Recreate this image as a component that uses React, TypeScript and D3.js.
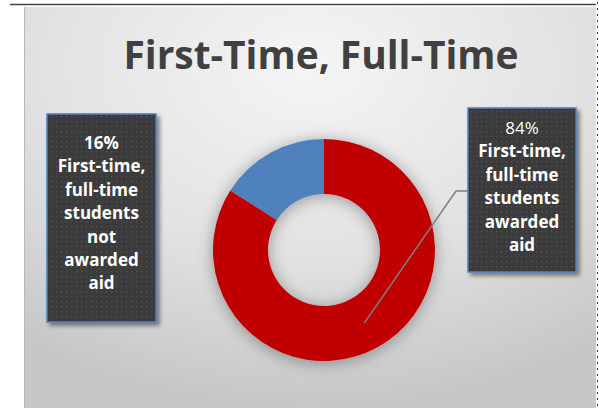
import { useEffect, useRef } from "react";
import * as d3 from "d3";

const title = "First-Time, Full-Time";
const categories = ["awarded aid", "not awarded aid"];
const shares = [84, 16];
const sliceColors = ["#C00000", "#4F81BD"];
const awardedLines = ["84%", "First-time,", "full-time", "students", "awarded", "aid"];
const notAwardedLines = ["16%", "First-time,", "full-time", "students", "not", "awarded", "aid"];

const W = 599;
const H = 408;

const App = () => {
    const svgRef = useRef<SVGSVGElement>(null);

    useEffect(() => {
        const svg = d3.select(svgRef.current);
        svg.selectAll("*").remove();
        const defs = svg.append("defs");

        // background gradient
        const bg = defs.append("radialGradient").attr("id", "bg")
            .attr("cx", "50%").attr("cy", "15%").attr("r", "85%");
        bg.append("stop").attr("offset", "0%").attr("stop-color", "#f5f5f5");
        bg.append("stop").attr("offset", "55%").attr("stop-color", "#e2e2e2");
        bg.append("stop").attr("offset", "100%").attr("stop-color", "#c6c6c6");

        const glow = defs.append("filter").attr("id", "glow")
            .attr("x", "-30%").attr("y", "-30%").attr("width", "160%").attr("height", "160%");
        glow.append("feDropShadow").attr("dx", 0).attr("dy", 2).attr("stdDeviation", 8)
            .attr("flood-color", "#000").attr("flood-opacity", 0.35);

        const boxShadow = defs.append("filter").attr("id", "boxShadow")
            .attr("x", "-20%").attr("y", "-20%").attr("width", "150%").attr("height", "150%");
        boxShadow.append("feDropShadow").attr("dx", 3).attr("dy", 3).attr("stdDeviation", 2)
            .attr("flood-color", "#000").attr("flood-opacity", 0.45);

        const dots = defs.append("pattern").attr("id", "dots")
            .attr("width", 5).attr("height", 5).attr("patternUnits", "userSpaceOnUse");
        dots.append("rect").attr("width", 5).attr("height", 5).attr("fill", "#3a3a3a");
        dots.append("rect").attr("x", 1).attr("y", 1).attr("width", 1.3).attr("height", 1.3).attr("fill", "#575757");

        // top rule and right page edge
        svg.append("line").attr("x1", 10).attr("x2", 596).attr("y1", 4.5).attr("y2", 4.5)
            .attr("stroke", "#444").attr("stroke-width", 1.5);
        svg.append("line").attr("x1", 597.5).attr("x2", 597.5).attr("y1", 2).attr("y2", H)
            .attr("stroke", "#333").attr("stroke-width", 1).attr("stroke-dasharray", "2,4");

        // chart area
        svg.append("rect").attr("x", 24).attr("y", 7).attr("width", 572).attr("height", H - 7)
            .attr("fill", "url(#bg)");
        svg.append("line").attr("x1", 24.5).attr("x2", 24.5).attr("y1", 7).attr("y2", H)
            .attr("stroke", "#b8b8b8").attr("stroke-width", 1);

        svg.append("text").attr("x", 321).attr("y", 69).attr("text-anchor", "middle")
            .attr("font-family", "'Open Sans', sans-serif").attr("font-weight", "bold")
            .attr("font-size", 39).attr("fill", "#404040")
            .attr("textLength", 395).attr("lengthAdjust", "spacingAndGlyphs")
            .text(title);

        // donut
        const cx = 324, cy = 250, outer = 111, inner = 56;
        const pie = d3.pie<number>().sort(null).value(d => d);
        const arcs = pie(shares);
        const arc = d3.arc<d3.PieArcDatum<number>>().innerRadius(inner).outerRadius(outer);
        const g = svg.append("g").attr("transform", `translate(${cx},${cy})`);
        g.append("g").attr("filter", "url(#glow)")
            .selectAll("path").data(arcs).join("path")
            .attr("d", arc)
            .attr("fill", (d, i) => sliceColors[i])
            .attr("data-category", (d, i) => categories[i]);

        // leader line for awarded slice
        const [lx, ly] = arc.centroid(arcs[0]);
        const line = d3.line();
        svg.append("path")
            .attr("d", line([[cx + lx, cy + ly], [456, 191], [468, 191]]))
            .attr("fill", "none").attr("stroke", "#7f7f7f").attr("stroke-width", 1.5);

        // label boxes
        const drawBox = (x: number, y: number, w: number, h: number, lines: string[], firstY: number, boldFirst: boolean) => {
            const b = svg.append("g");
            b.append("rect").attr("x", x).attr("y", y).attr("width", w).attr("height", h)
                .attr("fill", "url(#dots)").attr("stroke", "#4F81BD").attr("stroke-width", 1.5)
                .attr("filter", "url(#boxShadow)");
            b.selectAll("text").data(lines).join("text")
                .attr("x", x + w / 2)
                .attr("y", (d, i) => firstY + i * 23.4)
                .attr("text-anchor", "middle")
                .attr("font-family", "'Open Sans', sans-serif")
                .attr("font-size", 17)
                .attr("font-weight", (d, i) => (i === 0 && !boldFirst ? "normal" : "bold"))
                .attr("fill", "#fff")
                .text(d => d);
        };
        drawBox(47, 114, 109, 208, notAwardedLines, 149, true);
        drawBox(468, 108, 108, 164, awardedLines, 134, false);
    }, []);

    return (
        <svg ref={svgRef} width={W} height={H}
            style={{ position: "absolute", left: 0, top: 0, display: "block" }} />
    );
};

export default App;
